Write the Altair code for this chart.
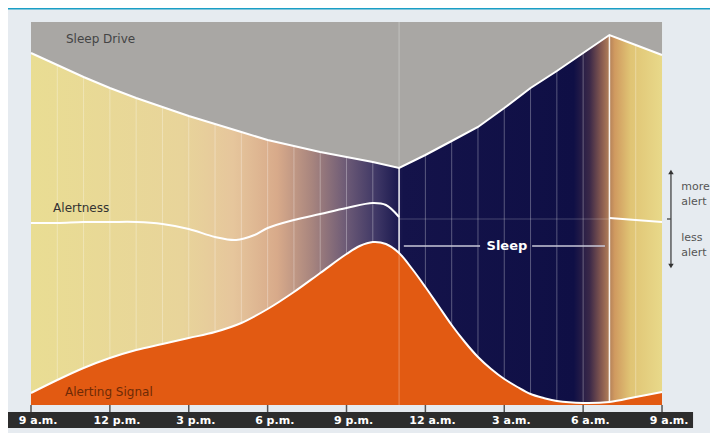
import altair as alt
import pandas as pd

# ---------------- data (x in hours after 9 a.m., y in chart level units) ----------------
hours = list(range(25))
sleep_drive = [352, 340, 328, 317, 307, 298, 289, 281, 273, 265, 259, 253, 248, 243, 237,
               250, 264, 278, 297, 317, 334, 352, 370, 360, 350]

signal_hours = [0, 1, 2, 3, 4, 5, 6, 7, 8, 9, 10, 11, 12, 12.5, 13, 13.5, 14, 14.5, 15, 15.5,
                16, 16.5, 17, 17.5, 18, 18.5, 19, 19.5, 20, 21, 22, 23, 24]
alerting_signal = [12, 25, 37, 47, 55, 61, 67, 73, 82, 96, 113, 132, 151, 159, 163, 161, 152, 136,
                   118, 99, 80, 63, 48, 36, 26, 18, 11, 7, 4, 2, 3, 8, 13]

awake_hours = [0, 1, 2, 3, 4, 5, 6, 7, 7.8, 8.5, 9, 10, 11, 12, 13, 13.5, 14]
alertness = [182, 182, 183, 183, 183, 181, 176, 168, 165, 170, 177, 185, 191, 197, 202, 200, 188]
wake_hours = [22, 24]
wake_alertness = [187, 183]

tick_hours = [0, 3, 6, 9, 12, 15, 18, 21, 24]
tick_labels = ["9 a.m.", "12 p.m.", "3 p.m.", "6 p.m.", "9 p.m.", "12 a.m.", "3 a.m.", "6 a.m.", "9 a.m."]

grid_hours = [h for h in range(1, 24) if h not in (14, 22)]
sleep_onset = 14
wake_time = 22
TOP = 383

# ---------------- scales ----------------
xs = alt.Scale(domain=[-0.8748, 25.825], nice=False, zero=False)
ys = alt.Scale(domain=[-28, 397], nice=False, zero=False)


def X(f="h"):
    return alt.X(f"{f}:Q", scale=xs, axis=None)


def Y(f="v"):
    return alt.Y(f"{f}:Q", scale=ys, axis=None)


one = pd.DataFrame({"h": [0], "h2": [24], "v": [0], "v2": [TOP]})

bg_grad = alt.Gradient(
    gradient="linear", x1=0, x2=1, y1=0, y2=0,
    stops=[
        alt.GradientStop(color="#e9dd93", offset=0.0),
        alt.GradientStop(color="#e8d49a", offset=0.24),
        alt.GradientStop(color="#e6c69c", offset=0.32),
        alt.GradientStop(color="#d8aa8a", offset=0.39),
        alt.GradientStop(color="#a8857e", offset=0.445),
        alt.GradientStop(color="#6c5a76", offset=0.50),
        alt.GradientStop(color="#3c3564", offset=0.55),
        alt.GradientStop(color="#14134a", offset=0.59),
        alt.GradientStop(color="#0f0f45", offset=0.86),
        alt.GradientStop(color="#3a2848", offset=0.885),
        alt.GradientStop(color="#8a5c50", offset=0.905),
        alt.GradientStop(color="#d09a60", offset=0.925),
        alt.GradientStop(color="#e0c474", offset=0.95),
        alt.GradientStop(color="#e8d98a", offset=1.0),
    ],
)

background = alt.Chart(one).mark_rect(color=bg_grad).encode(
    x=X("h"), x2="h2", y=Y("v"), y2="v2")

grid = alt.Chart(pd.DataFrame({"h": grid_hours, "v": 0, "v2": TOP})).mark_rule(
    color="white", opacity=0.3, strokeWidth=1).encode(x=X("h"), y=Y("v"), y2="v2")

key_lines = alt.Chart(pd.DataFrame({"h": [sleep_onset, wake_time], "v": 0, "v2": TOP})).mark_rule(
    color="white", opacity=0.9, strokeWidth=1.5).encode(x=X("h"), y=Y("v"), y2="v2")

sd = pd.DataFrame({"h": hours, "v": sleep_drive, "v2": TOP})
gray_area = alt.Chart(sd).mark_area(color="#a9a7a4", interpolate="linear").encode(
    x=X("h"), y=Y("v"), y2="v2")
gray_line = alt.Chart(sd).mark_line(color="white", strokeWidth=2, interpolate="linear").encode(
    x=X("h"), y=Y("v"))

sig = pd.DataFrame({"h": signal_hours, "v": alerting_signal, "v2": 0})
orange_area = alt.Chart(sig).mark_area(color="#e25a12", interpolate="catmull-rom").encode(
    x=X("h"), y=Y("v"), y2="v2")
orange_line = alt.Chart(sig).mark_line(color="white", strokeWidth=2, interpolate="catmull-rom").encode(
    x=X("h"), y=Y("v"))

faint_onset = alt.Chart(pd.DataFrame({"h": [sleep_onset], "v": 0, "v2": TOP})).mark_rule(
    color="white", opacity=0.3, strokeWidth=1).encode(x=X("h"), y=Y("v"), y2="v2")

midline = alt.Chart(pd.DataFrame({"h": [sleep_onset], "h2": [wake_time], "v": [186]})).mark_rule(
    color="white", opacity=0.15, strokeWidth=1.5).encode(x=X("h"), x2="h2", y=Y("v"))

al1 = alt.Chart(pd.DataFrame({"h": awake_hours, "v": alertness})).mark_line(
    color="white", strokeWidth=2, interpolate="catmull-rom").encode(x=X("h"), y=Y("v"))
al2 = alt.Chart(pd.DataFrame({"h": wake_hours, "v": wake_alertness})).mark_line(
    color="white", strokeWidth=2).encode(x=X("h"), y=Y("v"))

bracket = alt.Chart(pd.DataFrame({"h": [14.18, 19.06], "h2": [17.08, 21.83], "v": [159, 159]})).mark_rule(
    color="#c9c9d9", strokeWidth=1.5).encode(x=X("h"), x2="h2", y=Y("v"))
sleep_txt = alt.Chart(pd.DataFrame({"h": [18.1], "v": [159], "t": ["Sleep"]})).mark_text(
    color="white", fontSize=13, fontWeight="bold", font="DejaVu Sans", align="center",
    baseline="middle").encode(x=X("h"), y=Y("v"), text="t:N")

lbl = pd.DataFrame({"h": [1.33, 0.84, 1.29], "v": [366, 197, 13],
                    "t": ["Sleep Drive", "Alertness", "Alerting Signal"],
                    "c": ["#444444", "#333333", "#6e2a06"]})
labels = alt.Chart(lbl).mark_text(fontSize=12, font="DejaVu Sans", align="left",
                                  baseline="middle").encode(
    x=X("h"), y=Y("v"), text="t:N", color=alt.Color("c:N", scale=None))

bar = alt.Chart(pd.DataFrame({"h": [-0.875], "h2": [25.18], "v": [-23], "v2": [-7]})).mark_rect(
    color="#2d2d2d").encode(x=X("h"), x2="h2", y=Y("v"), y2="v2")
ticks = alt.Chart(pd.DataFrame({"h": tick_hours, "v": 0, "v2": -7})).mark_rule(
    color="#555555", strokeWidth=1.5).encode(x=X("h"), y=Y("v"), y2="v2")
tick_txt = alt.Chart(pd.DataFrame({"h": [t + 0.27 for t in tick_hours], "v": -15.5,
                                   "t": tick_labels})).mark_text(
    color="white", fontSize=11, fontWeight="bold", font="DejaVu Sans", align="center",
    baseline="middle").encode(x=X("h"), y=Y("v"), text="t:N")

arrow_x = 24.34
shaft = alt.Chart(pd.DataFrame({"h": [arrow_x], "v": [139], "v2": [233]})).mark_rule(
    color="#444444", strokeWidth=1.3).encode(x=X("h"), y=Y("v"), y2="v2")
heads = alt.Chart(pd.DataFrame({"h": [arrow_x, arrow_x], "v": [233, 139],
                                "s": ["triangle-up", "triangle-down"]})).mark_point(
    filled=True, color="#333333", size=30, opacity=1).encode(
    x=X("h"), y=Y("v"), shape=alt.Shape("s:N", scale=None))
mid_tick = alt.Chart(pd.DataFrame({"h": [24.19], "h2": [arrow_x], "v": [186]})).mark_rule(
    color="#444444", strokeWidth=1.3).encode(x=X("h"), x2="h2", y=Y("v"))
side_txt = alt.Chart(pd.DataFrame({"h": [24.73] * 4, "v": [218, 203, 167, 152],
                                   "t": ["more", "alert", "less", "alert"]})).mark_text(
    color="#555555", fontSize=11, font="DejaVu Sans", align="left", baseline="middle").encode(
    x=X("h"), y=Y("v"), text="t:N")

cyan = alt.Chart(one).mark_rule(color="#1a9fc6", strokeWidth=3).encode(
    x=alt.value(0), x2=alt.value(702), y=alt.value(0))

chart = alt.layer(
    background, grid, key_lines, gray_area, orange_area, faint_onset, midline,
    gray_line, orange_line, al1, al2, bracket, sleep_txt, labels,
    bar, ticks, tick_txt, shaft, heads, mid_tick, side_txt, cyan,
).properties(
    width=702, height=425, background="#e6ebf0", padding=0,
    autosize=alt.AutoSizeParams(type="none"),
).configure_view(stroke=None)

chart.save("out.html", embed_options={"renderer": "svg", "actions": False})
